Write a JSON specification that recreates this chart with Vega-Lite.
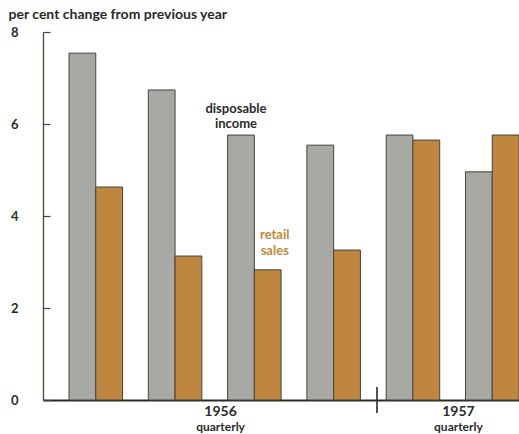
{
  "$schema": "https://vega.github.io/schema/vega-lite/v6.json",
  "width": 476,
  "height": 368,
  "autosize": "none",
  "padding": {"left": 43, "top": 32, "right": 0, "bottom": 34},
  "background": "white",
  "config": {"view": {"stroke": null}, "font": "Lato"},
  "datasets": {
    "bars": [
      {"quarter": "1956 Q1", "series": "disposable income", "value": 7.54},
      {"quarter": "1956 Q1", "series": "retail sales", "value": 4.63},
      {"quarter": "1956 Q2", "series": "disposable income", "value": 6.74},
      {"quarter": "1956 Q2", "series": "retail sales", "value": 3.13},
      {"quarter": "1956 Q3", "series": "disposable income", "value": 5.76},
      {"quarter": "1956 Q3", "series": "retail sales", "value": 2.83},
      {"quarter": "1956 Q4", "series": "disposable income", "value": 5.54},
      {"quarter": "1956 Q4", "series": "retail sales", "value": 3.26},
      {"quarter": "1957 Q1", "series": "disposable income", "value": 5.76},
      {"quarter": "1957 Q1", "series": "retail sales", "value": 5.65},
      {"quarter": "1957 Q2", "series": "disposable income", "value": 4.96},
      {"quarter": "1957 Q2", "series": "retail sales", "value": 5.76}
    ],
    "seriesNotes": [
      {"quarter": "1956 Q3", "series": "disposable income", "value": 6.33, "text": "disposable"},
      {"quarter": "1956 Q3", "series": "disposable income", "value": 6.0, "text": "income"}
    ],
    "salesNotes": [
      {"quarter": "1956 Q3", "series": "retail sales", "value": 3.58, "text": "retail"},
      {"quarter": "1956 Q3", "series": "retail sales", "value": 3.25, "text": "sales"}
    ],
    "years": [
      {"quarter": "1956 Q2", "value": -0.34, "text": "1956"},
      {"quarter": "1957 Q1", "value": -0.34, "text": "1957"}
    ],
    "freq": [
      {"quarter": "1956 Q2", "value": -0.665, "text": "quarterly"},
      {"quarter": "1957 Q1", "value": -0.665, "text": "quarterly"}
    ],
    "divider": [
      {"quarter": "1956 Q4", "top": 0.28, "bottom": -0.28}
    ]
  },
  "layer": [
    {
      "data": {"name": "bars"},
      "mark": {"type": "bar", "stroke": "#45453d", "strokeWidth": 1},
      "encoding": {
        "x": {
          "field": "quarter", "type": "nominal",
          "scale": {"paddingInner": 0.325, "paddingOuter": 0.164, "align": 1},
          "axis": {"title": null, "labels": false, "ticks": false, "domain": true, "domainColor": "#2a2a22", "domainWidth": 2}
        },
        "xOffset": {"field": "series", "type": "nominal", "scale": {"domain": ["disposable income", "retail sales"], "paddingInner": 0, "paddingOuter": 0}},
        "y": {
          "field": "value", "type": "quantitative",
          "scale": {"domain": [0, 8], "nice": false, "zero": true},
          "axis": {
            "values": [0, 2, 4, 6, 8],
            "grid": false,
            "tickSize": -7,
            "tickColor": "#4a4430",
            "tickWidth": 1.2,
            "domainColor": "#4a4430",
            "domainWidth": 1.3,
            "labelPadding": 32,
            "labelFont": "Lato",
            "labelFontSize": 13,
            "labelFontWeight": "bold",
            "labelColor": "#2a2a2a",
            "title": "per cent change from previous year",
            "titleAngle": 0,
            "titleAlign": "left",
            "titleBaseline": "alphabetic",
            "titleX": -35,
            "titleY": -14,
            "titleFont": "Lato",
            "titleFontSize": 14,
            "titleFontWeight": "bold",
            "titleColor": "#2a2a2a"
          }
        },
        "color": {
          "field": "series", "type": "nominal",
          "scale": {"domain": ["disposable income", "retail sales"], "range": ["#a8a8a4", "#bf8640"]},
          "legend": null
        }
      }
    },
    {
      "data": {"name": "seriesNotes"},
      "mark": {"type": "text", "font": "Lato", "fontSize": 13, "fontWeight": "bold", "color": "#2a2a2a", "align": "center", "baseline": "middle", "dx": -5},
      "encoding": {
        "x": {"field": "quarter", "type": "nominal"},
        "xOffset": {"field": "series", "type": "nominal"},
        "y": {"field": "value", "type": "quantitative"},
        "text": {"field": "text"}
      }
    },
    {
      "data": {"name": "salesNotes"},
      "mark": {"type": "text", "font": "Lato", "fontSize": 13, "fontWeight": "bold", "color": "#c4863a", "align": "center", "baseline": "middle", "dx": 7},
      "encoding": {
        "x": {"field": "quarter", "type": "nominal"},
        "xOffset": {"field": "series", "type": "nominal"},
        "y": {"field": "value", "type": "quantitative"},
        "text": {"field": "text"}
      }
    },
    {
      "data": {"name": "years"},
      "mark": {"type": "text", "font": "Lato", "fontSize": 14, "fontWeight": "bold", "color": "#2a2a2a", "align": "center", "baseline": "alphabetic"},
      "encoding": {
        "x": {"field": "quarter", "type": "nominal", "bandPosition": 1.35},
        "y": {"field": "value", "type": "quantitative"},
        "text": {"field": "text"}
      }
    },
    {
      "data": {"name": "freq"},
      "mark": {"type": "text", "font": "Lato", "fontSize": 12, "fontWeight": "bold", "color": "#2a2a2a", "align": "center", "baseline": "alphabetic"},
      "encoding": {
        "x": {"field": "quarter", "type": "nominal", "bandPosition": 1.35},
        "y": {"field": "value", "type": "quantitative"},
        "text": {"field": "text"}
      }
    },
    {
      "data": {"name": "divider"},
      "mark": {"type": "rule", "color": "#2a2a22", "strokeWidth": 1.6},
      "encoding": {
        "x": {"field": "quarter", "type": "nominal", "bandPosition": 1.31},
        "y": {"field": "top", "type": "quantitative"},
        "y2": {"field": "bottom"}
      }
    }
  ]
}
